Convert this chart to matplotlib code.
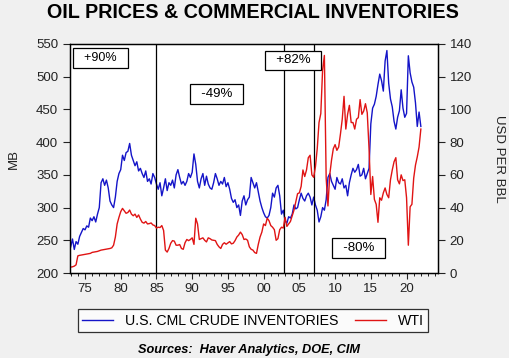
import matplotlib
matplotlib.use("Agg")
import matplotlib.pyplot as plt
import numpy as np

plt.rcParams['font.family'] = ['Liberation Sans', 'DejaVu Sans']

# quarterly observations, first one is 1973 Q1
start_year = 1973
inventories = [
    240, 252, 236, 248,  244, 256, 262, 268,  266, 272, 270, 284,  280, 286, 278, 290,
    300, 338, 344, 334,  342, 330, 310, 304,  300, 316, 340, 352,  358, 380, 372, 384,
    386, 398, 380, 372,  364, 370, 356, 360,  352, 346, 356, 340,  344, 336, 352, 346,
    336, 328, 338, 318,  330, 344, 326, 338,  334, 342, 330, 350,  358, 346, 336, 340,
    334, 340, 352, 346,  354, 382, 366, 340,  330, 344, 352, 334,  348, 336, 330, 328,
    338, 352, 344, 334,  340, 336, 346, 332,  338, 328, 314, 308,  312, 300, 304, 288,
    310, 318, 304, 312,  316, 346, 338, 330,  338, 324, 310, 300,  292, 286, 284, 288,
    300, 322, 316, 330,  334, 318, 290, 296,  280, 276, 286, 284,  290, 304, 298, 300,
    312, 322, 314, 310,  318, 322, 316, 304,  316, 304, 296, 278,  286, 300, 296, 312,
    346, 352, 340, 334,  328, 346, 338, 336,  344, 330, 334, 318,  338, 350, 360, 354,
    358, 366, 348, 350,  360, 344, 352, 360,  428, 452, 458, 470,  488, 504, 494, 478,
    524, 540, 490, 466,  454, 432, 420, 438,  448, 480, 452, 438,  444, 532, 506, 492,
    484, 460, 424, 446,  424,
]
wti = [
    3.6, 3.8, 4.2, 5.0,  10.5, 10.8, 11.0, 11.2,  11.4, 11.6, 11.8, 12.0,  12.6, 12.8, 13.0, 13.2,
    13.6, 14.0, 14.2, 14.4,  14.6, 14.8, 15.0, 15.4,  17.0, 22.0, 30.0, 34.0,  37.5, 39.5, 38.0, 36.5,
    37.0, 38.5, 36.0, 35.0,  36.0, 34.0, 35.5, 33.0,  31.0, 30.5, 31.5, 30.0,  30.2, 30.6, 29.4, 29.0,
    27.5, 28.0, 27.8, 29.0,  26.0, 14.0, 12.8, 15.0,  18.2, 19.8, 19.5, 17.0,  17.0, 17.4, 15.0, 14.5,
    18.5, 20.5, 19.8, 20.5,  21.5, 17.5, 33.5, 30.0,  20.5, 21.0, 21.5, 20.0,  19.0, 21.5, 21.0, 20.2,
    20.0, 19.8, 17.5, 16.0,  15.0, 17.5, 18.5, 17.6,  18.4, 19.2, 17.8, 18.2,  19.8, 22.0, 23.2, 25.0,
    23.5, 20.5, 20.8, 20.0,  16.0, 14.5, 14.0, 12.5,  12.0, 17.5, 22.0, 25.0,  30.0, 29.0, 33.5, 32.0,
    29.0, 28.0, 26.5, 20.0,  21.0, 26.5, 28.0, 27.5,  34.0, 28.5, 30.0, 31.5,  35.0, 38.5, 43.5, 48.5,
    49.0, 53.0, 63.0, 59.0,  63.0, 70.5, 72.0, 60.0,  58.5, 65.0, 76.0, 92.0,  97.5, 124.0, 133.0, 58.0,
    41.0, 60.0, 69.0, 76.0,  78.5, 75.0, 77.0, 85.0,  94.0, 108.0, 88.0, 97.0,  102.5, 92.0, 92.0, 88.0,
    94.0, 95.0, 106.0, 97.0,  99.0, 103.5, 98.0, 76.0,  48.0, 59.0, 45.0, 42.0,  31.0, 46.0, 44.5, 49.0,
    52.0, 48.0, 46.0, 57.0,  63.0, 68.0, 70.5, 57.0,  54.5, 60.0, 56.5, 57.0,  46.0, 17.0, 40.5, 42.0,
    58.0, 66.0, 71.0, 77.0,  88.0,
]
event_years = [1985, 2002.8, 2007.0]
box_labels = ["+90%", "-49%", "+82%", "-80%"]

t = start_year + np.arange(len(inventories)) / 4.0

fig = plt.figure(figsize=(5.09, 3.58), dpi=100)
fig.patch.set_facecolor('#f0f0f0')
ax = fig.add_axes([0.1375, 0.2374, 0.723, 0.6397])
ax.set_facecolor('white')
ax2 = ax.twinx()

l1, = ax.plot(t, inventories, color='#1414c8', lw=1.0, label='U.S. CML CRUDE INVENTORIES')
l2, = ax2.plot(t, wti, color='#e01414', lw=1.0, label='WTI')
for yr in event_years:
    ax.axvline(yr, color='black', lw=0.9)

ax.set_xlim(1972.9, 2024.4)
ax.set_ylim(200, 550)
ax2.set_ylim(0, 140)
ax.set_yticks(np.arange(200, 551, 50))
ax2.set_yticks(np.arange(0, 141, 20))
ax.set_xticks(np.arange(1975, 2021, 5))
ax.set_xticks(np.arange(1973, 2025), minor=True)
ax.set_xticklabels([f"{y % 100:02d}" for y in range(1975, 2021, 5)])

tick_color = '#222222'
ax.tick_params(axis='y', labelsize=9.5, length=5, width=0.8, colors=tick_color)
ax2.tick_params(axis='y', labelsize=9.5, length=5, width=0.8, colors=tick_color)
ax.tick_params(axis='x', which='major', labelsize=9.5, length=4, width=0.8, colors=tick_color)
ax.tick_params(axis='x', which='minor', length=2, width=0.6)
for a in (ax, ax2):
    for s in a.spines.values():
        s.set_linewidth(0.9)

ax.set_ylabel('MB', fontsize=9.5, color=tick_color, labelpad=12)
ax2.set_ylabel('USD PER BBL', fontsize=9.5, color=tick_color, rotation=-90, labelpad=24)

# annotation boxes (axes fractions)
box_pos = [(0.083, 0.939), (0.398, 0.782), (0.606, 0.928), (0.784, 0.109)]
box_size = [9.0, 9.5, 9.5, 9.5]
for txt, (bx, by), fs in zip(box_labels, box_pos, box_size):
    ax2.text(bx, by, "  " + txt + "  ", transform=ax2.transAxes, ha='center', va='center',
             fontsize=fs, zorder=10,
             bbox=dict(boxstyle='square,pad=0.3', facecolor='white', edgecolor='black', lw=0.9))

fig.text(0.497, 0.965, 'OIL PRICES & COMMERCIAL INVENTORIES', ha='center', va='center',
         fontsize=14.2, fontweight='bold')
leg = fig.legend(handles=[l1, l2], loc='center', bbox_to_anchor=(0.497, 0.1047), ncol=2,
                 fontsize=10.2, frameon=True, fancybox=False, edgecolor='black',
                 handlelength=2.2, columnspacing=1.2, borderpad=0.3)
leg.get_frame().set_linewidth(0.9)
fig.text(0.49, 0.022, 'Sources:  Haver Analytics, DOE, CIM', ha='center', va='center',
         fontsize=9.2, fontweight='bold', style='italic')

fig.savefig('out.png', dpi=100, facecolor=fig.get_facecolor())
